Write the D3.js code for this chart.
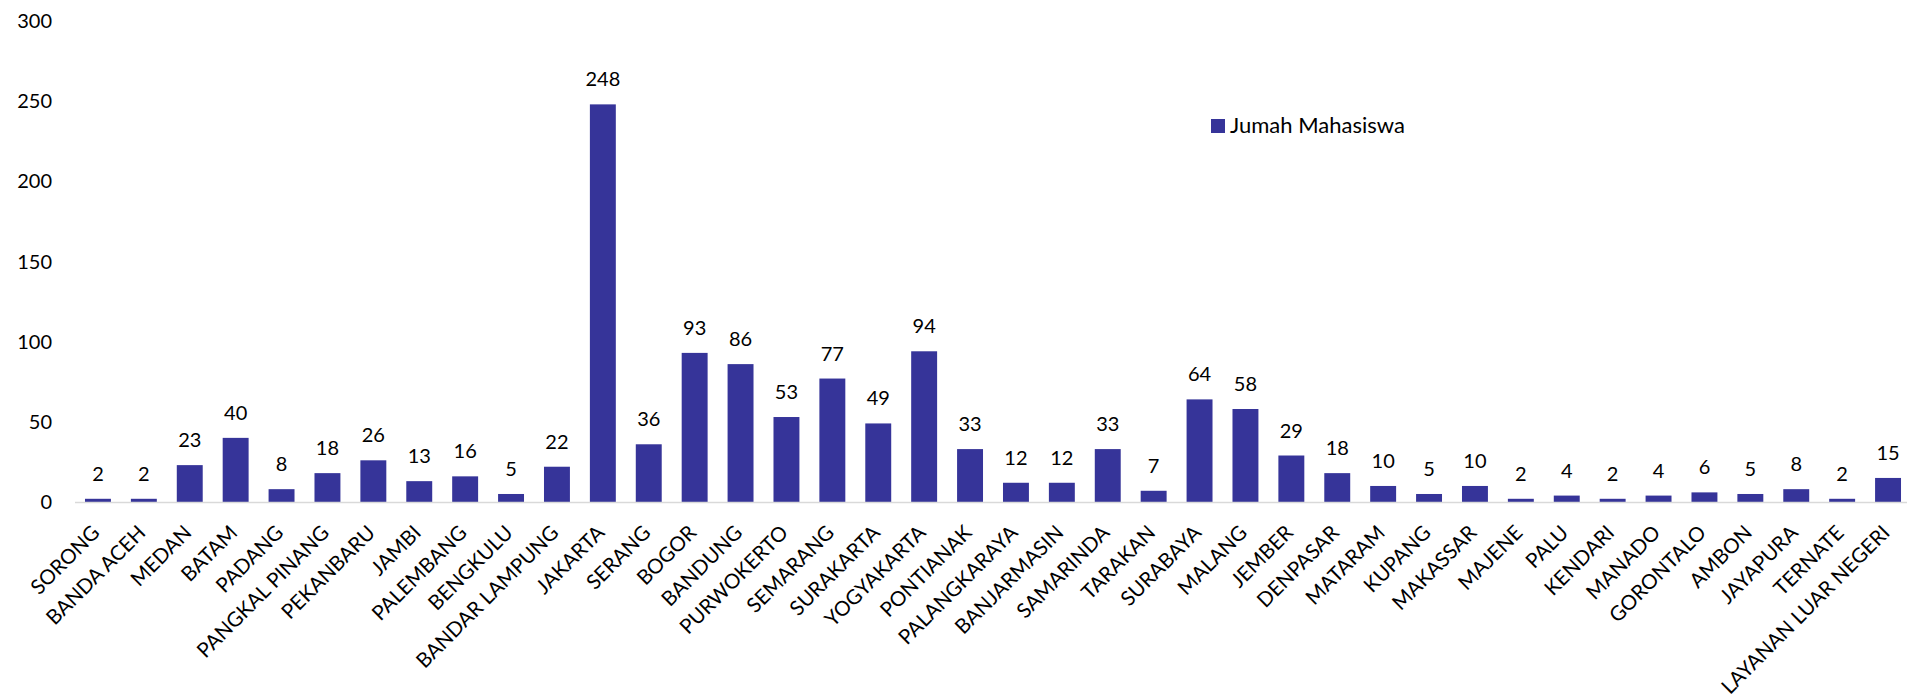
<!DOCTYPE html>
<html><head><meta charset="utf-8">
<script src="https://cdn.jsdelivr.net/npm/d3@7"></script>
<style>body{margin:0;background:#fff}svg{display:block}</style>
</head><body>
<svg id="c" width="1907" height="699"></svg>
<script>
const categories = ["SORONG","BANDA ACEH","MEDAN","BATAM","PADANG","PANGKAL PINANG","PEKANBARU","JAMBI","PALEMBANG","BENGKULU","BANDAR LAMPUNG","JAKARTA","SERANG","BOGOR","BANDUNG","PURWOKERTO","SEMARANG","SURAKARTA","YOGYAKARTA","PONTIANAK","PALANGKARAYA","BANJARMASIN","SAMARINDA","TARAKAN","SURABAYA","MALANG","JEMBER","DENPASAR","MATARAM","KUPANG","MAKASSAR","MAJENE","PALU","KENDARI","MANADO","GORONTALO","AMBON","JAYAPURA","TERNATE","LAYANAN LUAR NEGERI"];
const values = [2,2,23,40,8,18,26,13,16,5,22,248,36,93,86,53,77,49,94,33,12,12,33,7,64,58,29,18,10,5,10,2,4,2,4,6,5,8,2,15];
const yTicks = [0,50,100,150,200,250,300];
const seriesName = "Jumah Mahasiswa";

const font = "Lato, 'Open Sans', sans-serif";
const svg = d3.select("#c");
const x = d3.scaleBand().domain(categories).range([75, 1911]).paddingInner(0.435).paddingOuter(0.2175);
const y = d3.scaleLinear().domain([0, 300]).range([502, 21]);
const color = "#363499";

// y tick labels
svg.append("g").selectAll("text").data(yTicks).join("text")
  .attr("x", 52).attr("y", d => y(d)).attr("dy", "0.35em")
  .attr("text-anchor", "end").attr("font-family", font).attr("font-size", 20).attr("fill", "#000")
  .text(d => d);

// bars
svg.append("g").selectAll("rect").data(values).join("rect")
  .attr("x", (d, i) => x(categories[i])).attr("width", x.bandwidth())
  .attr("y", d => y(d)).attr("height", d => y(0) - y(d)).attr("fill", color);

// baseline
svg.append("line").attr("x1", 75).attr("x2", 1911).attr("y1", y(0) + 0.5).attr("y2", y(0) + 0.5)
  .attr("stroke", "#d9d9d9").attr("stroke-width", 1.5);

// value labels
svg.append("g").selectAll("text").data(values).join("text")
  .attr("x", (d, i) => x(categories[i]) + x.bandwidth() / 2).attr("y", d => y(d) - 18)
  .attr("text-anchor", "middle").attr("font-family", font).attr("font-size", 20).attr("fill", "#000")
  .text(d => d);

// category labels
svg.append("g").selectAll("text").data(categories).join("text")
  .attr("transform", d => `translate(${x(d) + x.bandwidth() / 2 + 3},${y(0) + 32}) rotate(-45)`)
  .attr("text-anchor", "end").attr("font-family", font).attr("font-size", 20.5).attr("fill", "#000")
  .text(d => d);

// legend
const lg = svg.append("g").attr("transform", "translate(1211,119)");
lg.append("rect").attr("width", 14).attr("height", 14).attr("fill", color);
lg.append("text").attr("x", 19).attr("y", 14).attr("font-family", font).attr("font-size", 22).attr("fill", "#000").text(seriesName);
</script>
</body></html>
